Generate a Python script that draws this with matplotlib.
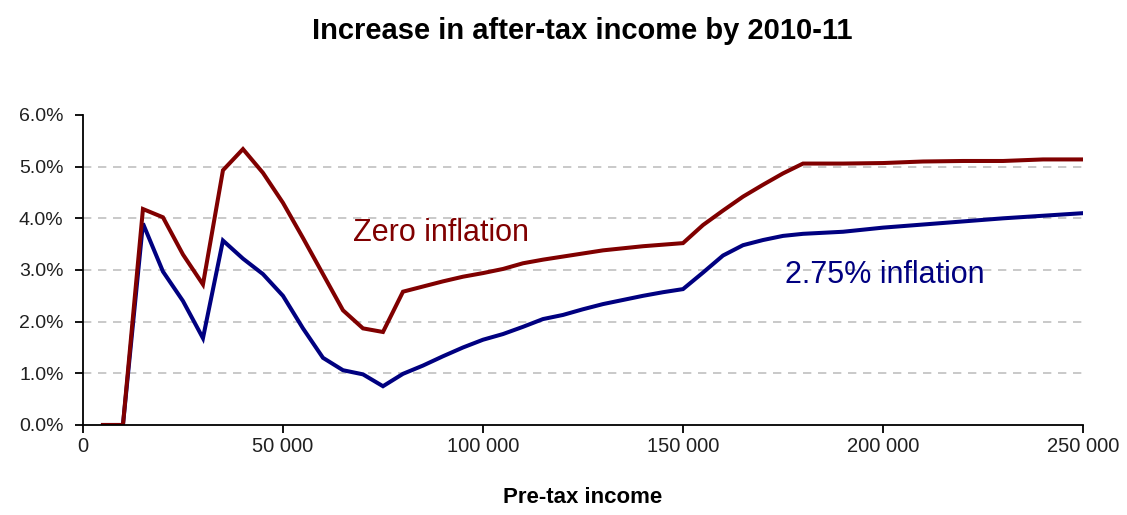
import matplotlib.pyplot as plt
from matplotlib.ticker import FuncFormatter

# Pre-tax income (GBP) and increase in after-tax income (%)
income = [5000, 10000, 15000, 20000, 25000, 30000, 35000, 40000, 45000, 50000,
          55000, 60000, 65000, 70000, 75000, 80000, 85000, 90000, 95000, 100000,
          105000, 110000, 115000, 120000, 125000, 130000, 135000, 140000, 145000, 150000,
          155000, 160000, 165000, 170000, 175000, 180000, 190000, 200000, 210000, 220000,
          230000, 240000, 250000]

zero_inflation = [0.0, 0.0, 4.18, 4.02, 3.30, 2.72, 4.93, 5.34, 4.88, 4.30,
                  3.62, 2.92, 2.22, 1.87, 1.80, 2.58, 2.68, 2.78, 2.87, 2.94,
                  3.02, 3.13, 3.20, 3.26, 3.32, 3.38, 3.42, 3.46, 3.49, 3.52,
                  3.87, 4.15, 4.42, 4.65, 4.87, 5.06, 5.06, 5.07, 5.10, 5.11,
                  5.11, 5.14, 5.14]

inflation_275 = [0.0, 0.0, 3.90, 2.97, 2.40, 1.68, 3.57, 3.22, 2.92, 2.50,
                 1.87, 1.30, 1.06, 0.98, 0.75, 0.99, 1.15, 1.33, 1.50, 1.65,
                 1.76, 1.90, 2.05, 2.13, 2.24, 2.34, 2.42, 2.50, 2.57, 2.63,
                 2.95, 3.28, 3.48, 3.58, 3.66, 3.70, 3.74, 3.82, 3.88, 3.94,
                 4.00, 4.05, 4.10]

x_ticks = [0, 50000, 100000, 150000, 200000, 250000]
y_ticks = [0, 1, 2, 3, 4, 5, 6]

red = '#800000'
navy = '#000080'

plt.rcParams['font.family'] = 'Liberation Sans'

fig = plt.figure(figsize=(11.27, 5.15), dpi=100)
ax = fig.add_axes([0.0736, 0.1748, 0.8874, 0.6019])

ax.plot(income, inflation_275, color=navy, lw=2.9, solid_joinstyle='miter')
ax.plot(income, zero_inflation, color=red, lw=2.9, solid_joinstyle='miter')

ax.set_xlim(0, 250000)
ax.set_ylim(0, 6)
ax.set_xticks(x_ticks)
ax.set_yticks(y_ticks)
ax.xaxis.set_major_formatter(FuncFormatter(lambda v, p: f'{int(v):,}'.replace(',', ' ')))
ax.yaxis.set_major_formatter(FuncFormatter(lambda v, p: f'{v:.1f}%'))

for y in y_ticks[1:-1]:
    ax.axhline(y, color='#c0c0c0', lw=1.2, ls=(0, (5, 4)), zorder=0)

for s in ['top', 'right']:
    ax.spines[s].set_visible(False)
for s in ['left', 'bottom']:
    ax.spines[s].set_linewidth(1.3)
ax.tick_params(axis='both', direction='out', length=6, width=1.3,
               colors='black', labelcolor='#202020')
ax.tick_params(axis='x', pad=3, labelsize=14.5)
ax.tick_params(axis='y', pad=8, labelsize=14)

ax.text(67500, 3.72, 'Zero inflation', color=red, fontsize=22, va='center')
ax.text(175500, 2.90, '2.75% inflation', color=navy, fontsize=22, va='center')

fig.text(0.517, 0.940, 'Increase in after-tax income by 2010-11', ha='center',
         va='center', fontsize=21, fontweight='bold')
ax.set_xlabel('Pre-tax income', fontsize=16, fontweight='bold', va='center')
ax.xaxis.set_label_coords(0.5, -0.235)

fig.savefig('out.png', dpi=100)
